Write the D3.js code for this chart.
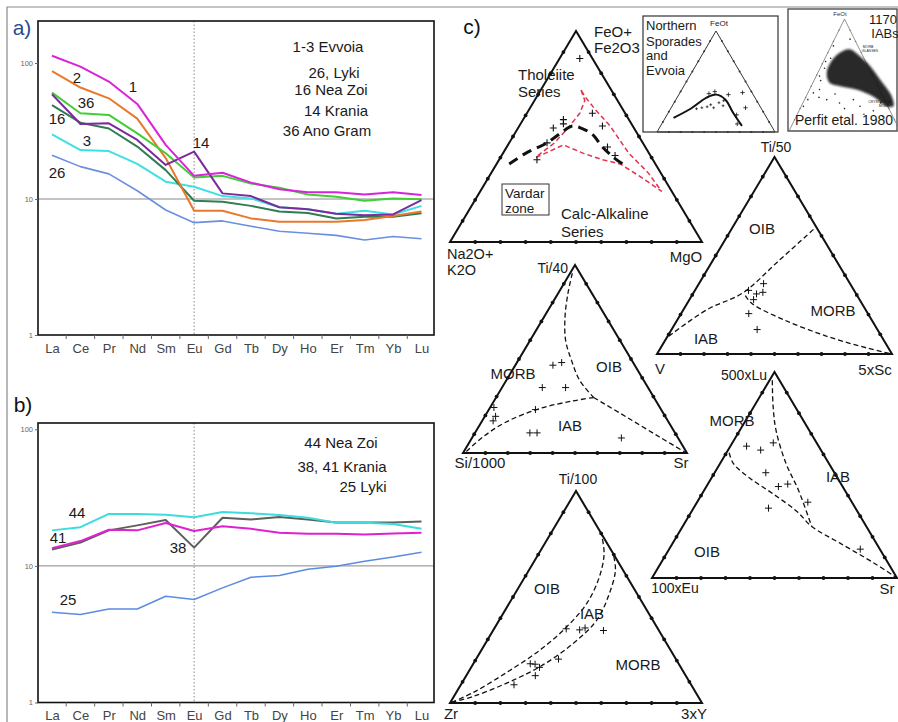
<!DOCTYPE html>
<html><head><meta charset="utf-8">
<script src="https://cdn.jsdelivr.net/npm/d3@7"></script>
<style>body{margin:0;background:#fff}svg{display:block;font-family:"Liberation Sans",Arial,sans-serif}</style>
</head><body><svg width="898" height="722"></svg>
<script>
// ---------------- DATA ----------------
const ree = ["La","Ce","Pr","Nd","Sm","Eu","Gd","Tb","Dy","Ho","Er","Tm","Yb","Lu"];
const yTickValues = [1, 10, 100];
// panel a (chondrite-normalised)
const a_1  = [113,94,73,50,25,14.8,15.6,13.2,11.8,11.2,11.2,10.8,11.2,10.7];
const a_2  = [87,66,55,39,20,8.2,8.2,7.2,6.8,6.8,6.8,7.0,7.5,8.1];
const a_36 = [60.5,42.7,41.5,30.4,21.7,14.4,14.8,13,12.1,10.8,10.4,9.7,10.1,9.95];
const a_14 = [58.9,35.6,36,27.2,17.8,22.3,11,10.5,8.7,8.4,7.8,7.6,7.7,9.8];
const a_16 = [49,36.4,33,24.3,16.3,9.7,9.55,8.9,8.1,7.9,7.2,7.4,7.4,7.85];
const a_3  = [29.9,22.9,22.5,18.1,13.4,12.3,10.5,10.1,8.7,8.4,7.8,8.2,7.7,8.9];
const a_26 = [21,17.3,15.3,11.5,8.3,6.7,6.9,6.3,5.8,5.6,5.4,5.0,5.3,5.1];
// panel b
const b_44 = [18.2,19.2,24,24,23.7,22.7,24.8,24.3,23.6,22.5,20.7,20.7,20.3,18.7];
const b_38 = [13.2,14.8,18.2,19.8,21.7,13.6,22.5,21.9,22.8,21.9,20.8,20.8,20.8,21.1];
const b_41 = [13.5,15.2,18.4,18.2,20.6,18,19.5,18.7,17.5,17.2,17.2,17,17.3,17.5];
const b_25 = [4.57,4.4,4.84,4.84,6.0,5.67,6.9,8.26,8.5,9.45,9.95,10.8,11.6,12.6];

// ternary data: [apex %, right-corner %]  (left corner = 100 - both)
const ternTicks = [10,20,30,40,50,60,70,80,90];
const afmSamples = [[87,8],[58,16],[56,17],[54,14],[61,26],[55,33],[47,15],[39,15],[45,40],[41,45]];
const afmTrend = [[37,5],[42,9],[47,15],[53,19],[55,21],[54,25],[51,31],[45,38],[40,45],[37,50]];
const afmField = [[72,16],[67,20],[61,21],[55,20],[47,18],[42,15],[40,14],[43,18],[46,22],[42,32],[39,41],[37,49],[31,60],[24,72],[33,62],[42,50],[55,36],[63,26],[69,19]];
const nsSamples = [[38,25],[40,29],[37,42],[39,53],[24,63],[17,59],[8,64]];
const nsSmall = [[24,26],[25,30],[27,32],[24,36],[29,38],[26,43],[31,41],[23,22]];
const nsTrend = [[14,7],[23,17],[34,25],[37,32],[32,42],[19,55],[6,69]];
const perfitCloud = [[70,11],[73,18],[67,30],[58,44],[46,59],[31,77],[22,83],[22,77],[31,60],[37,42],[40,26],[43,15],[52,8],[62,7]];
const perfitOutliers = [[62,2],[49,3],[34,5],[28,3],[22,2],[28,20],[25,33],[28,44],[18,67],[13,78],[82,14],[76,2],[22,53],[37,9],[45,6],[30,12],[33,25],[20,40],[15,60],[25,70],[65,5],[56,4]];
const tvsSamples = [[35.7,27.5],[31.3,29.4],[30.5,27.1],[32.3,22.8],[27.6,27.3],[20.5,28.8],[12.4,36.4]];
const tvsB1 = [[9,0.5],[22.5,10],[31,21],[47,28],[64.5,35.5]];
const tvsB2 = [[29.6,22.8],[25.6,27.6],[17.4,45.2],[9,67.8],[3,88],[0,100]];
const tssSamples = [[46.7,16.8],[48.1,20],[34.8,18],[34.8,28.4],[23.1,20.8],[24.2,1.7],[17.1,4.9],[19.5,4.8],[10.7,24.5],[10.7,27.7],[8,66.7]];
const tssB1 = [[95.6,1],[84.9,4.4],[72.5,9.3],[60,15.8],[49.4,23.7],[38.7,32.7],[29.5,43.6]];
const tssB2 = [[29.5,43.6],[27.7,35.2],[23.6,22.4],[16.5,11],[8.5,4.6],[0.5,1]];
const tssB3 = [[29.5,43.6],[19.2,63.3],[8.5,83.5],[0.4,99]];
const lesSamples = [[64,6.6],[62.1,13.3],[65.6,16.7],[51.1,20.9],[44.4,29.4],[45.6,32.6],[36.8,45.2],[33.9,30.6],[14,78]];
const lesB1 = [[96,1.1],[83.1,7.9],[71.8,14.7],[55.6,26.9],[42.7,38.4],[25,52.7]];
const lesB2 = [[60.8,1.1],[55.6,5.4],[48.4,15.8],[40.8,29.1],[32.3,43],[25,52.7],[16.9,68.3],[7.3,86.9],[0.3,99.5]];
const tzySamples = [[35,28.6],[34.5,34.2],[35.4,35.9],[34.2,43.8],[20.7,32.7],[18.5,22.6],[18.3,24.6],[16.8,27.1],[12.9,27.4],[8.6,21.1]];
const tzyB1 = [[0.3,0.5],[5,6.8],[14.4,15.3],[25.1,23.3],[36.1,28.4],[47,30.8],[59.6,29.5],[70.5,25.9],[79.9,20.1]];
const tzyB2 = [[0.3,0.5],[3.1,7.7],[9.4,17.8],[17.2,27.2],[28.2,34.9],[39.2,38.7],[51.7,37.4],[62.7,34.3],[70.5,29.5]];

// ---------------- DRAW ----------------
const svg = d3.select("svg");
const defs = svg.append("defs");
defs.append("filter").attr("id", "fuzz").attr("x", "-20%").attr("y", "-20%").attr("width", "140%").attr("height", "140%")
  .append("feGaussianBlur").attr("stdDeviation", 1.3);
function txt(x, y, s, size, anchor, fill) {
  return svg.append("text").attr("x", x).attr("y", y).text(s)
    .attr("font-size", size).attr("text-anchor", anchor || "start").attr("fill", fill || "#1a1a1a");
}
// outer frame
svg.append("path").attr("d", "M7,722V7H898").attr("fill", "none").attr("stroke", "#8a8a8a").attr("stroke-width", 1.2);

function reePanel(P, series) {
  const x = d3.scalePoint().domain(ree).range([52, 421.5]);
  const y = d3.scaleLog().domain([1, 100]).range([P.bottom, P.y100]);
  svg.append("line").attr("x1", 38).attr("x2", 434).attr("y1", y(10)).attr("y2", y(10)).attr("stroke", "#888").attr("stroke-width", 1);
  svg.append("line").attr("x1", x("Eu")).attr("x2", x("Eu")).attr("y1", P.top).attr("y2", P.bottom)
    .attr("stroke", "#888").attr("stroke-width", 1).attr("stroke-dasharray", "1.5,2");
  const line = d3.line().x((d, i) => x(ree[i])).y(d => y(d));
  series.forEach(s => {
    svg.append("path").attr("d", line(s.v)).attr("fill", "none").attr("stroke", s.c).attr("stroke-width", s.w || 2).attr("stroke-linejoin", "round");
  });
  svg.append("rect").attr("x", 38).attr("y", P.top).attr("width", 396).attr("height", P.bottom - P.top)
    .attr("fill", "none").attr("stroke", "#111").attr("stroke-width", 1.6);
  const ya = svg.append("g").attr("transform", "translate(38,0)")
    .call(d3.axisLeft(y).tickValues(yTickValues).tickFormat(d3.format("d")).tickSize(3).tickPadding(2));
  ya.select(".domain").remove();
  ya.selectAll("text").attr("font-size", 7.5).attr("fill", "#666").attr("font-family", "Liberation Sans, Arial");
  ya.selectAll("line").attr("stroke", "#666");
  const xa = svg.append("g").attr("transform", `translate(0,${P.bottom})`)
    .call(d3.axisBottom(x).tickSize(0).tickPadding(8.5));
  xa.select(".domain").remove();
  xa.selectAll("text").attr("font-size", 13).attr("fill", "#444").attr("font-family", "Liberation Sans, Arial");
  for (let i = 0; i < ree.length - 1; i++) {
    const m = (x(ree[i]) + x(ree[i + 1])) / 2;
    svg.append("line").attr("x1", m).attr("x2", m).attr("y1", P.bottom).attr("y2", P.bottom + 4).attr("stroke", "#666");
  }
}

reePanel({ top: 21, bottom: 335, y100: 63 }, [
  { v: a_26, c: "#6b8fe0", w: 1.6 },
  { v: a_3, c: "#3ee0e2" },
  { v: a_16, c: "#2f7d50" },
  { v: a_2, c: "#e9782b" },
  { v: a_36, c: "#3fcf35" },
  { v: a_14, c: "#7c2a9c" },
  { v: a_1, c: "#d923d9" }
]);
reePanel({ top: 423, bottom: 702.5, y100: 429.3 }, [
  { v: b_25, c: "#5b8ce0", w: 1.5 },
  { v: b_38, c: "#5e5e5e" },
  { v: b_41, c: "#de22d0" },
  { v: b_44, c: "#3cdcdc" }
]);

txt(22, 35, "a)", 21, "middle", "#2c4a8a");
txt(23, 412, "b)", 21, "middle", "#111");
txt(472, 34, "c)", 21, "middle", "#111");

[["1",133,92],["2",77,83],["36",86,108],["16",57,124],["3",87,146],["26",57,178],["14",201,148]]
  .forEach(d => txt(d[1], d[2], d[0], 15, "middle"));
[["1-3 Evvoia",328,52],["26, Lyki",334,78],["16 Nea Zoi",331,95],["14 Krania",336,116],["36 Ano Gram",327,136]]
  .forEach(d => txt(d[1], d[2], d[0], 15, "middle"));
[["44",77,518],["41",58,543],["38",178,553],["25",68,605]].forEach(d => txt(d[1], d[2], d[0], 15, "middle"));
[["44 Nea Zoi",341,448],["38, 41 Krania",342,472],["25 Lyki",363,492]].forEach(d => txt(d[1], d[2], d[0], 15, "middle"));

// ---------- ternary ----------
function ternary(T) {
  const yS = d3.scaleLinear().domain([0, 100]).range([T.base, T.top]);
  const xS = d3.scaleLinear().domain([0, 100]).range([T.left, T.right]);
  const proj = p => [xS(p[1] + p[0] / 2), yS(p[0])];
  const A = proj([100, 0]), L = proj([0, 0]), R = proj([0, 100]);
  svg.append("path").attr("d", d3.line()([A, L, R]) + "Z").attr("fill", "none")
    .attr("stroke", T.edge || "#111").attr("stroke-width", T.ew || 2).attr("stroke-linejoin", "miter");
  const dots = [];
  ternTicks.forEach(k => { dots.push([k, 0]); dots.push([0, k]); dots.push([k, 100 - k]); });
  svg.append("g").selectAll("circle").data(dots).join("circle")
    .attr("cx", d => proj(d)[0]).attr("cy", d => proj(d)[1]).attr("r", T.dr || 1.9).attr("fill", T.edge || "#111");
  return proj;
}
function crosses(proj, data, s, sw) {
  svg.append("g").selectAll("path").data(data).join("path")
    .attr("d", d => { const p = proj(d); return `M${p[0] - s},${p[1]}H${p[0] + s}M${p[0]},${p[1] - s}V${p[1] + s}`; })
    .attr("stroke", "#111").attr("stroke-width", sw || 1.1).attr("fill", "none");
}
function curve(proj, data, o) {
  const ln = d3.line().x(d => proj(d)[0]).y(d => proj(d)[1]).curve(o.curve || d3.curveCatmullRom.alpha(0.5));
  svg.append("path").attr("d", ln(data)).attr("fill", "none").attr("stroke", o.c || "#111")
    .attr("stroke-width", o.w || 1.3).attr("stroke-dasharray", o.dash || null);
}

// AFM
const pAFM = ternary({ left: 450, right: 702, base: 242, top: 31 });
curve(pAFM, afmField, { c: "#e3324f", w: 1.5, dash: "5,3", curve: d3.curveLinearClosed });
curve(pAFM, afmTrend, { c: "#111", w: 3, dash: "10,6" });
crosses(pAFM, afmSamples, 3.5, 1.1);
txt(594, 37, "FeO+", 15); txt(594, 53, "Fe2O3", 15);
txt(518, 80, "Tholeiite", 15); txt(518, 97, "Series", 15);
svg.append("rect").attr("x", 502).attr("y", 184).attr("width", 47).attr("height", 31).attr("fill", "none").attr("stroke", "#333").attr("stroke-width", 1);
txt(505, 198, "Vardar", 13.5); txt(505, 213, "zone", 13.5);
txt(561, 219, "Calc-Alkaline", 15); txt(561, 237, "Series", 15);
txt(447, 259, "Na2O+", 14.5); txt(447, 275, "K2O", 14.5);
txt(686, 262, "MgO", 15, "middle");

// Northern Sporades inset
svg.append("rect").attr("x", 643).attr("y", 16).attr("width", 135).attr("height", 116).attr("fill", "#fff").attr("stroke", "#333").attr("stroke-width", 1.2);
const pNS = ternary({ left: 657, right: 775, base: 132, top: 31, ew: 1, dr: 1, edge: "#333" });
curve(pNS, nsTrend, { c: "#111", w: 2 });
crosses(pNS, nsSamples, 2.2, 0.8);
crosses(pNS, nsSmall, 1.4, 0.7);
txt(646, 30, "Northern", 13); txt(646, 46, "Sporades", 13); txt(646, 60, "and", 13); txt(646, 75, "Evvoia", 13);
txt(719, 26, "FeOt", 8, "middle");

// Perfit inset
svg.append("rect").attr("x", 788).attr("y", 9).attr("width", 109).attr("height", 122).attr("fill", "#fff").attr("stroke", "#333").attr("stroke-width", 1.2);
const pPF = ternary({ left: 789, right: 900, base: 131, top: 19, ew: 0.8, dr: 0.7, edge: "#777" });
svg.append("path").attr("d", d3.line().x(d => pPF(d)[0]).y(d => pPF(d)[1]).curve(d3.curveCatmullRomClosed)(perfitCloud))
  .attr("fill", "#151515").attr("fill-opacity", 0.92).attr("filter", "url(#fuzz)");
svg.append("g").selectAll("circle").data(perfitOutliers).join("circle")
  .attr("cx", d => pPF(d)[0]).attr("cy", d => pPF(d)[1]).attr("r", 0.8).attr("fill", "#222");
txt(840, 16, "FeOt", 6, "middle", "#333");
txt(883, 24, "1170", 13, "middle"); txt(885, 38, "IABs", 13, "middle");
txt(868, 48, "MORB", 3.5, "middle"); txt(870, 52, "GLASSES", 3.5, "middle");
txt(880, 103, "CRYSTALLINE", 3.5, "middle"); txt(884, 107, "MORB", 3.5, "middle");
txt(844, 125, "Perfit etal. 1980", 14, "middle");

// Ti/50 - V - 5xSc
const pTVS = ternary({ left: 657, right: 892, base: 354, top: 157 });
curve(pTVS, tvsB1, { dash: "5,3" });
curve(pTVS, tvsB2, { dash: "5,3" });
crosses(pTVS, tvsSamples, 3.5, 1);
txt(776, 152, "Ti/50", 14, "middle");
txt(762, 234, "OIB", 15, "middle"); txt(833, 316, "MORB", 15, "middle"); txt(706, 344, "IAB", 15, "middle");
txt(660, 374, "V", 15, "middle"); txt(875, 375, "5xSc", 15, "middle");

// Ti/40 - Si/1000 - Sr
const pTSS = ternary({ left: 463, right: 687, base: 453, top: 265 });
curve(pTSS, tssB1, { dash: "5,3" });
curve(pTSS, tssB2, { dash: "5,3" });
curve(pTSS, tssB3, { dash: "5,3" });
crosses(pTSS, tssSamples, 3.5, 1);
txt(568, 273, "Ti/40", 14, "end");
txt(513, 379, "MORB", 15, "middle"); txt(609, 372, "OIB", 15, "middle"); txt(570, 431, "IAB", 15, "middle");
txt(480, 468, "Si/1000", 15, "middle"); txt(681, 468, "Sr", 15, "middle");

// 500xLu - 100xEu - Sr
const pLES = ternary({ left: 652, right: 897, base: 578, top: 372 });
curve(pLES, lesB1, { dash: "5,3" });
curve(pLES, lesB2, { dash: "5,3" });
crosses(pLES, lesSamples, 3.5, 1);
txt(744, 380, "500xLu", 14, "middle");
txt(732, 426, "MORB", 15, "middle"); txt(838, 482, "IAB", 15, "middle"); txt(707, 557, "OIB", 15, "middle");
txt(675, 593, "100xEu", 14, "middle"); txt(887, 594, "Sr", 15, "middle");

// Ti/100 - Zr - 3xY
const pTZY = ternary({ left: 450, right: 702, base: 703, top: 491 });
curve(pTZY, tzyB1, { dash: "5,3" });
curve(pTZY, tzyB2, { dash: "5,3" });
crosses(pTZY, tzySamples, 3.5, 1);
txt(578, 484, "Ti/100", 14, "middle");
txt(547, 594, "OIB", 15, "middle"); txt(592, 619, "IAB", 15, "middle"); txt(638, 670, "MORB", 15, "middle");
txt(451, 719, "Zr", 15, "middle"); txt(694, 719, "3xY", 15, "middle");
</script></body></html>
